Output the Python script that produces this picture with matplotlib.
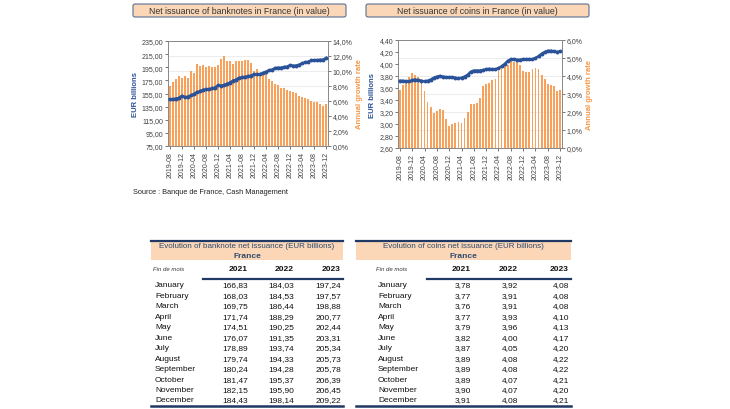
import numpy as np
import pandas as pd
import matplotlib
matplotlib.use("Agg")
import matplotlib.pyplot as plt
from matplotlib.patches import FancyBboxPatch, Rectangle

plt.rcParams['font.family'] = ['Liberation Sans', 'DejaVu Sans']

# months shown on the charts
months = [p.strftime('%Y-%m') for p in pd.period_range('2019-08', '2023-12', freq='M')]

# banknotes, EUR billions (2021-2023 from the table, earlier)
notes_level = [146.0, 146.2, 147.2, 148.3, 151.3,
               149.5, 150.0, 152.3, 154.2, 157.1, 158.2, 160.6, 161.3, 161.6, 162.7, 163.9, 167.3,
               166.83, 168.03, 169.75, 171.74, 174.51, 176.07, 178.89, 179.74, 180.24, 181.47, 182.15, 184.43,
               184.03, 184.53, 186.44, 188.29, 190.25, 191.35, 193.74, 194.33, 194.28, 195.37, 195.90, 198.14,
               197.24, 197.57, 198.88, 200.77, 202.44, 203.31, 205.34, 205.73, 205.78, 206.39, 206.45, 209.22]
notes_growth = [8.0, 8.6, 8.9, 9.4, 9.1,
                9.3, 9.1, 10.0, 9.7, 10.9, 10.7, 10.8, 10.5, 10.7, 10.5, 10.6, 10.8,
                11.6, 12.0, 11.4, 11.4, 11.0, 11.3, 11.3, 11.4, 11.5, 11.5, 11.1, 10.0,
                10.3, 9.8, 9.8, 9.6, 9.0, 8.7, 8.3, 8.1, 7.8, 7.7, 7.5, 7.4,
                7.2, 7.1, 6.7, 6.6, 6.4, 6.3, 6.0, 5.9, 5.9, 5.6, 5.4, 5.6]

# coins, EUR billions
coins_level = [3.72, 3.72, 3.71, 3.71, 3.73,
               3.74, 3.73, 3.72, 3.71, 3.72, 3.74, 3.77, 3.79, 3.80, 3.79, 3.78, 3.78,
               3.78, 3.77, 3.76, 3.77, 3.79, 3.82, 3.87, 3.89, 3.89, 3.89, 3.90, 3.91,
               3.92, 3.91, 3.91, 3.93, 3.96, 4.00, 4.05, 4.08, 4.08, 4.07, 4.07, 4.08,
               4.08, 4.08, 4.08, 4.10, 4.13, 4.17, 4.20, 4.22, 4.22, 4.21, 4.20, 4.21]
coins_growth = [3.23, 3.5, 3.68, 3.96, 4.16,
                4.07, 3.96, 3.83, 3.16, 2.55, 2.27, 1.95, 2.03, 2.19, 2.1, 1.6, 1.23,
                1.32, 1.41, 1.43, 1.39, 1.69, 2.0, 2.42, 2.43, 2.49, 2.79, 3.42, 3.55,
                3.6, 3.79, 3.83, 4.29, 4.48, 4.61, 4.63, 4.81, 4.76, 4.76, 4.63, 4.29,
                4.24, 4.24, 4.4, 4.44, 4.37, 4.05, 3.85, 3.55, 3.49, 3.42, 3.14, 3.23]

# tables
table_months = ['January', 'February', 'March', 'April', 'May', 'June', 'July',
                'August', 'September', 'October', 'November', 'December']
table_years = ['2021', '2022', '2023']
notes_2021 = [166.83, 168.03, 169.75, 171.74, 174.51, 176.07, 178.89, 179.74, 180.24, 181.47, 182.15, 184.43]
notes_2022 = [184.03, 184.53, 186.44, 188.29, 190.25, 191.35, 193.74, 194.33, 194.28, 195.37, 195.90, 198.14]
notes_2023 = [197.24, 197.57, 198.88, 200.77, 202.44, 203.31, 205.34, 205.73, 205.78, 206.39, 206.45, 209.22]
coins_2021 = [3.78, 3.77, 3.76, 3.77, 3.79, 3.82, 3.87, 3.89, 3.89, 3.89, 3.90, 3.91]
coins_2022 = [3.92, 3.91, 3.91, 3.93, 3.96, 4.00, 4.05, 4.08, 4.08, 4.07, 4.07, 4.08]
coins_2023 = [4.08, 4.08, 4.08, 4.10, 4.13, 4.17, 4.20, 4.22, 4.22, 4.21, 4.20, 4.21]

BLUE = '#2A5298'
ORANGE = '#F7A25C'
ORANGE_TXT = '#F79646'
PEACH = '#FBD7B7'
NAVY = '#1F3864'
W, H = 730, 410


def comma(v, nd):
    return f"{v:.{nd}f}".replace('.', ',')


def px_axes(x0, y0, x1, y1):
    return fig.add_axes([x0 / W, 1 - y1 / H, (x1 - x0) / W, (y1 - y0) / H])


def chart(ax, level, growth, lticks, rticks, nd):
    x = np.arange(len(months))
    axr = ax.twinx()
    axr.bar(x, growth, width=0.55, color=ORANGE, zorder=2)
    axr.set_ylim(rticks[0], rticks[-1])
    axr.set_yticks(rticks)
    axr.set_yticklabels([comma(t, 1) + '%' for t in rticks])
    ax.set_zorder(axr.get_zorder() + 1)
    ax.patch.set_visible(False)
    ax.plot(x, level, color=BLUE, lw=1.8, marker='o', ms=1.8, zorder=3)
    ax.set_ylim(lticks[0], lticks[-1])
    ax.set_yticks(lticks)
    ax.set_yticklabels([comma(t, nd) for t in lticks])
    ax.set_xlim(-0.6, len(months) - 0.4)
    ax.set_xticks(x[::4])
    ax.set_xticklabels(months[::4], rotation=90)
    for a in (ax, axr):
        a.tick_params(labelsize=5, length=2, width=0.5, pad=1.5, colors='#404040')
        for s in a.spines.values():
            s.set_color('#888888')
            s.set_linewidth(0.6)
    axr.yaxis.grid(True, color='#E4E4E4', lw=0.5)
    axr.set_axisbelow(True)
    ax.set_ylabel('EUR billions', color=BLUE, fontsize=5.5, fontweight='bold', labelpad=2)
    axr.set_ylabel('Annual growth rate', color=ORANGE_TXT, fontsize=5.5, fontweight='bold', labelpad=2)


fig = plt.figure(figsize=(7.3, 4.1), dpi=100)

ax1 = px_axes(168, 42, 328, 147)
chart(ax1, notes_level, notes_growth, list(range(75, 236, 20)), list(range(0, 15, 2)), 2)
ax2 = px_axes(398, 41, 562, 149)
chart(ax2, coins_level, coins_growth, [round(2.6 + 0.2 * i, 2) for i in range(10)], list(range(0, 7)), 2)

ov = fig.add_axes([0, 0, 1, 1], zorder=-5)
ov.set_xlim(0, W)
ov.set_ylim(H, 0)
ov.axis('off')

# chart titles
for x0, x1, txt in [(133, 346, 'Net issuance of banknotes in France (in value)'),
                    (366, 589, 'Net issuance of coins in France (in value)')]:
    ov.add_patch(FancyBboxPatch((x0, 5), x1 - x0, 13, boxstyle='round,pad=0,rounding_size=2',
                                fc=PEACH, ec='#5A6F94', lw=0.8))
    ov.text((x0 + x1) / 2, 11.5, txt, ha='center', va='center', fontsize=6.3, color='#333333')

ov.text(133, 193, 'Source : Banque de France, Cash Management', fontsize=5.3, va='center', color='#222222')


def table(x0, x1, xm, xcols, xline, title, cols, nd):
    ov.add_patch(Rectangle((x0, 241), x1 - x0, 20, fc=PEACH, ec='none'))
    ov.plot([x0, x1], [241.5, 241.5], color=NAVY, lw=1.6)
    xc = (x0 + x1) / 2
    ov.text(xc, 246.5, title, ha='center', va='center', fontsize=5.8, color='#2F4A6E')
    ov.text(xc, 256, 'France', ha='center', va='center', fontsize=6, color='#2F4A6E', fontweight='bold')
    ov.text(xm - 2, 270, 'Fin de mois', ha='left', va='center', fontsize=4.3, style='italic', color='#333333')
    for xr, yr in zip(xcols, table_years):
        ov.text(xr, 270, yr, ha='right', va='center', fontsize=6, fontweight='bold', color='#111111')
    ov.plot([xline, x1], [280, 280], color=NAVY, lw=1.6)
    for i, m in enumerate(table_months):
        y = 286 + i * 10.45
        ov.text(xm, y, m, ha='left', va='center', fontsize=6, color='#111111')
        for xr, col in zip(xcols, cols):
            ov.text(xr, y, comma(col[i], nd), ha='right', va='center', fontsize=6, color='#111111')
    ov.plot([x0, x1], [406.5, 406.5], color=NAVY, lw=1.8)


table(151, 343, 155, [248, 294, 341], 203, 'Evolution of banknote net issuance (EUR billions)',
      [notes_2021, notes_2022, notes_2023], 2)
table(356, 571, 378, [471, 518, 569], 427, 'Evolution of coins net issuance (EUR billions)',
      [coins_2021, coins_2022, coins_2023], 2)

fig.savefig('out.png', dpi=100)
